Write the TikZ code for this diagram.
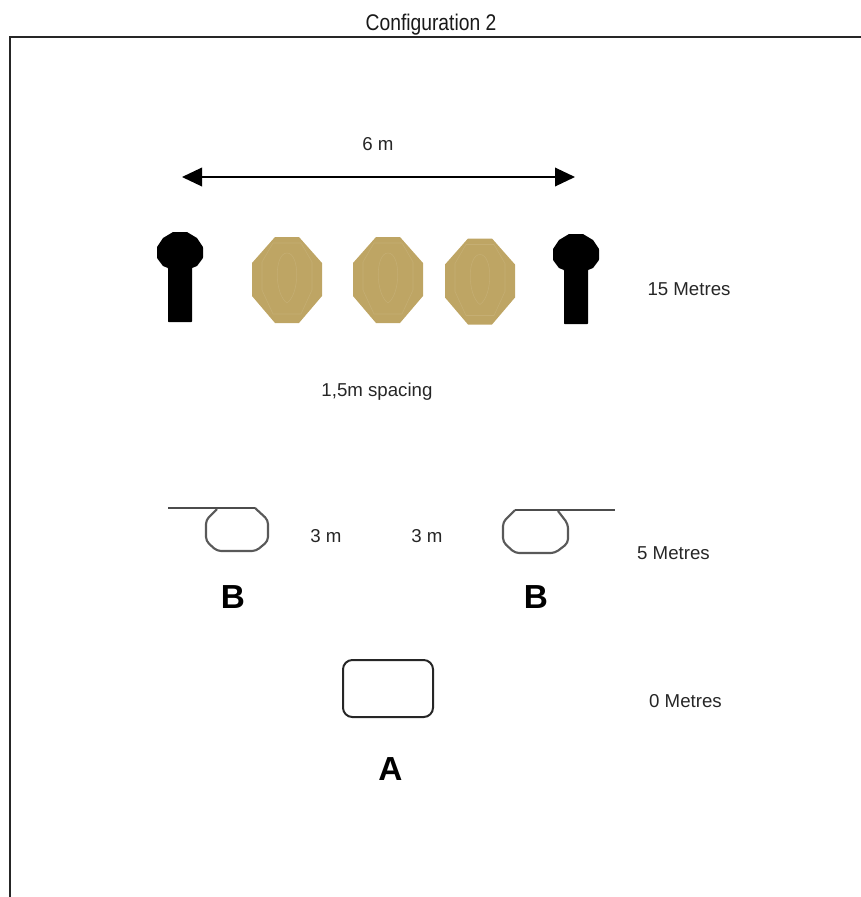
\documentclass[tikz,border=0pt]{standalone}
\usepackage{fontspec}
\setmainfont{Liberation Sans}
\usetikzlibrary{arrows.meta}
\definecolor{tan0}{RGB}{190,165,100}
\definecolor{tan1}{RGB}{197,174,115}
\tikzset{
  lbl/.style={inner sep=0pt,font=\fontsize{14pt}{16pt}\selectfont,text=black!85},
  ttl/.style={inner sep=0pt,font=\fontsize{17pt}{20pt}\selectfont,text=black!90},
  big/.style={inner sep=0pt,font=\fontsize{25pt}{28pt}\selectfont\bfseries},
  frame/.style={draw=black!85,line width=1.4pt},
  car/.style={draw=black!65,line width=1.6pt,rounded corners=3pt},
  bar/.style={draw=black!70,line width=1.6pt},
  tgt/.style={fill=tan0,draw=none},
  ring/.style={draw=tan1,line width=.4pt,fill=none},
  pop/.style={fill=black,draw=none,rounded corners=.4pt},
}
\newcommand{\mytarget}[2]{%
  \fill[tgt] (#1-12,#2-43) -- (#1+12,#2-43) -- (#1+35,#2-17) -- (#1+35,#2+16) -- (#1+12,#2+43) -- (#1-12,#2+43) -- (#1-35,#2+16) -- (#1-35,#2-17) -- cycle;
  \draw[ring] (#1,#2-27) .. controls (#1+13,#2-27) and (#1+13,#2+14) .. (#1,#2+23) .. controls (#1-13,#2+14) and (#1-13,#2-27) .. (#1,#2-27);
  \draw[ring] (#1-14,#2-37) -- (#1+14,#2-37) -- (#1+25,#2-18) -- (#1+25,#2+10) -- (#1+14,#2+34) -- (#1-14,#2+34) -- (#1-25,#2+10) -- (#1-25,#2-18) -- cycle;
}
\newcommand{\mypopper}[2]{%
  \fill[pop] (#1-12,#2+90) -- (#1-12,#2+36) -- (#1-17,#2+34) -- (#1-23,#2+26) -- (#1-23,#2+15) -- (#1-17,#2+6) -- (#1-7,#2) -- (#1+7,#2) -- (#1+17,#2+6) -- (#1+23,#2+15) -- (#1+23,#2+26) -- (#1+17,#2+34) -- (#1+12,#2+36) -- (#1+12,#2+90) -- cycle;
}
\begin{document}
\begin{tikzpicture}[x=.75pt,y=-.75pt]
\useasboundingbox (0,0) rectangle (861,897);
\coordinate (ftop) at (861,37);
\coordinate (fcorner) at (10,37);
\coordinate (fbot) at (10,897);
\draw[frame] (ftop) -- (fcorner) -- (fbot);
\node[ttl,anchor=base] (title) at (431,30) {\scalebox{.85}[1]{Configuration 2}};
\node[lbl] (six) at (378,144) {6 m};
\coordinate (al) at (182,177);
\coordinate (ar) at (575,177);
\draw[line width=1pt,{Triangle[length=15pt,width=14pt]}-{Triangle[length=15pt,width=14pt]}] (al) -- (ar);
\mypopper{180}{232}
\mypopper{576}{234}
\mytarget{287}{280}
\mytarget{388}{280}
\mytarget{480}{281.5}
\node[lbl] (m15) at (689,289) {15 Metres};
\node[lbl] (sp) at (377,392) {1,5m spacing};
% left barricade
\draw[car] (217,509) -- (206,520) -- (206,541) -- (217,551) -- (256,551) -- (268,541) -- (268,520) -- (255,508);
\coordinate (bl1) at (168,508);
\coordinate (bl2) at (255,508);
\draw[bar] (bl1) -- (bl2);
\node[lbl] (m3a) at (326,536) {3 m};
\node[lbl] (m3b) at (427,536) {3 m};
% right barricade
\draw[car] (515,510) -- (503,522) -- (503,542) -- (515,553) -- (555,553) -- (568,543) -- (568,524) -- (558,511);
\coordinate (br1) at (515,510);
\coordinate (br2) at (615,510);
\draw[bar] (br1) -- (br2);
\node[lbl] (m5) at (673.5,553) {5 Metres};
\node[big] (b1) at (233,597) {B};
\node[big] (b2) at (536,597) {B};
\node[draw=black!85,line width=1.5pt,rounded corners=7pt,minimum width=67.5pt,minimum height=42.75pt,inner sep=0pt] (boxa) at (388,688.5) {};
\node[lbl] (m0) at (685.5,701) {0 Metres};
\node[big] (a) at (390.5,769) {A};
\end{tikzpicture}
\end{document}
